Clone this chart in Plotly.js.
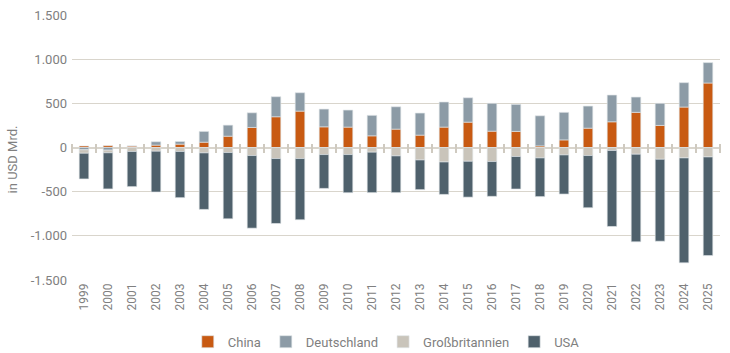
<!DOCTYPE html>
<html>
<head>
<meta charset="utf-8">
<script src="https://cdn.plot.ly/plotly-3.0.1.min.js"></script>
<style>
html,body{margin:0;padding:0;background:#fff;}
#chart{width:730px;height:353px;}
</style>
</head>
<body>
<div id="chart"></div>
<script>
const years = ['1999','2000','2001','2002','2003','2004','2005','2006','2007','2008','2009','2010','2011','2012','2013','2014','2015','2016','2017','2018','2019','2020','2021','2022','2023','2024','2025'];
const china = [17, 20, 17, 27, 38, 60, 128, 227, 348, 412, 234, 231, 132, 208, 140, 231, 287, 185, 182, 18, 86, 219, 291, 398, 250, 458, 730];
const deutschland = [-26, -30, 0, 38, 30, 122, 125, 166, 227, 208, 201, 193, 232, 253, 250, 284, 276, 315, 306, 341, 312, 250, 303, 173, 250, 276, 231];
const grossbritannien = [-39, -30, -45, -42, -45, -61, -57, -91, -125, -125, -80, -80, -53, -95, -141, -164, -156, -159, -102, -118, -84, -91, -34, -76, -133, -118, -107];
const usa = [-291, -409, -398, -462, -523, -640, -750, -822, -735, -693, -383, -432, -458, -416, -336, -367, -406, -394, -368, -438, -443, -591, -860, -992, -928, -1188, -1117];
const yTickVals = [-1500, -1000, -500, 0, 500, 1000, 1500];
const yTickText = ['-1.500', '-1.000', '-500', '0', '500', '1.000', '1.500'];
const yTitle = 'in USD Mrd.';

const colors = {china:'#c85a12', de:'#8c9ba6', gb:'#c9c4ba', us:'#4f616c'};
const grid = '#d9d5cc';
const txt = '#808080';
const fontFam = 'Roboto, "Open Sans", sans-serif';
const outline = {color:'rgba(225,229,233,0.9)', width:0.7};

function bar(name, y, color){
  return {type:'bar', name:name, x:years, y:y, marker:{color:color, line:outline}, hoverinfo:'x+y+name'};
}
const data = [
  bar('China', china, colors.china),
  bar('Deutschland', deutschland, colors.de),
  bar('Großbritannien', grossbritannien, colors.gb),
  bar('USA', usa, colors.us),
  {type:'scatter', x:years, y:years.map(()=>null), xaxis:'x2', showlegend:false, hoverinfo:'skip', mode:'lines'}
];
const plotH = 265;
const xr = [-0.5, years.length - 0.5];
const layout = {
  width:730, height:353,
  margin:{l:72, r:10, t:15, b:73, autoexpand:false},
  paper_bgcolor:'#fff', plot_bgcolor:'#fff',
  barmode:'relative', bargap:0.6,
  font:{family:fontFam, size:13, color:txt},
  showlegend:true,
  legend:{orientation:'h', x:0.485, xanchor:'center', y:-0.233, yanchor:'middle', font:{size:13, color:txt}, itemwidth:30, traceorder:'normal'},
  xaxis:{type:'category', range:xr, showgrid:false, showline:false, zeroline:false, ticks:'', tickangle:-90, tickfont:{size:12, color:txt}, automargin:false, fixedrange:true},
  xaxis2:{type:'category', range:xr, overlaying:'x', anchor:'free', position:0.5 + 4.5/plotH, side:'bottom', showgrid:false, showline:false, zeroline:false, ticks:'outside', ticklen:9, tickwidth:1.2, tickcolor:'#cfcac0', tickson:'boundaries', showticklabels:false, fixedrange:true},
  yaxis:{range:[-1500,1500], tickvals:yTickVals, ticktext:yTickText, showgrid:true, gridcolor:grid, gridwidth:1.2, zeroline:true, zerolinecolor:grid, zerolinewidth:2, showline:false, ticks:'', ticklabelstandoff:4, tickfont:{size:13, color:txt}, automargin:false, fixedrange:true},
  annotations:[{text:yTitle, xref:'paper', yref:'paper', x:-0.0926, y:0.455, xanchor:'center', yanchor:'middle', textangle:-90, showarrow:false, font:{size:13, color:txt}}]
};
Plotly.newPlot('chart', data, layout, {displayModeBar:false, staticPlot:true});
</script>
</body>
</html>
